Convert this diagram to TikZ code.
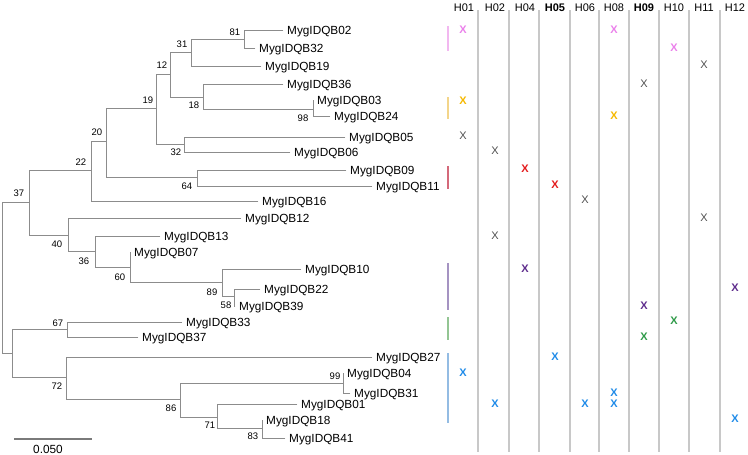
\documentclass[tikz,border=0pt]{standalone}
\usepackage{fontspec}
\setmainfont{Liberation Sans}
\definecolor{treegray}{HTML}{8C8C8C}
\definecolor{sbgray}{HTML}{7A7A7A}
\definecolor{sepgray}{HTML}{C8C8C8}
\definecolor{xgray}{HTML}{505050}
\definecolor{pinkX}{HTML}{EA80EA}
\definecolor{pinkB}{HTML}{F2B8F0}
\definecolor{yelX}{HTML}{F5B800}
\definecolor{yelB}{HTML}{F3D58A}
\definecolor{redX}{HTML}{E31A1C}
\definecolor{redB}{HTML}{D4697A}
\definecolor{purX}{HTML}{5E2C8C}
\definecolor{purB}{HTML}{A593C2}
\definecolor{grnX}{HTML}{2E9A48}
\definecolor{grnB}{HTML}{93C593}
\definecolor{bluX}{HTML}{1F8BE8}
\definecolor{bluB}{HTML}{94BCE3}
\begin{document}
\begin{tikzpicture}[x=1pt,y=-1pt,
  br/.style={draw=treegray, line width=0.9pt, line cap=rect},
  leaf/.style={anchor=west, inner xsep=4pt, inner ysep=0pt, font=\fontsize{11.8}{14}\selectfont, text height=8.45pt, text depth=0pt},
  bs/.style={inner sep=0pt, font=\fontsize{9.5}{11}\selectfont, text height=6.8pt, text depth=0pt},
  hdr/.style={inner sep=0pt, font=\fontsize{11}{13}\selectfont, text height=7.9pt, text depth=0pt},
  hdrb/.style={hdr, font=\fontsize{11}{13}\selectfont\bfseries},
  xg/.style={inner sep=0pt, font=\fontsize{11}{13}\selectfont, text height=7.9pt, text depth=0pt, text=xgray},
  xc/.style={inner sep=0pt, font=\fontsize{11}{13}\selectfont\bfseries, text height=7.9pt, text depth=0pt},
  sep/.style={draw=sepgray, line width=1.1pt},
  gbar/.style={line width=1.6pt},
]
\useasboundingbox (0,0) rectangle (748,455);

% ---------- internal nodes ----------
\coordinate (root) at (2,202);
\coordinate (n37) at (29,202);
\coordinate (n22) at (91,170);
\coordinate (n20) at (106,141);
\coordinate (n19) at (156,108);
\coordinate (n12) at (170,74);
\coordinate (n31) at (191,52);
\coordinate (n81) at (244,39);
\coordinate (n18) at (203,97);
\coordinate (n98) at (313,109);
\coordinate (n32) at (184,144);
\coordinate (n64) at (197,177);
\coordinate (n40) at (68,235);
\coordinate (n36) at (95,251);
\coordinate (n60) at (130,267);
\coordinate (n89) at (222,282);
\coordinate (n58) at (234,296);
\coordinate (nX) at (12,353);
\coordinate (n67) at (67,329);
\coordinate (n72) at (66,377);
\coordinate (n86) at (180,399);
\coordinate (n99) at (343,383);
\coordinate (n71) at (217,417);
\coordinate (n83) at (262,428);

% ---------- leaves ----------
\node[leaf] (B02) at (283,30) {MygIDQB02};
\node[leaf] (B32) at (255,48) {MygIDQB32};
\node[leaf] (B19) at (261,66) {MygIDQB19};
\node[leaf] (B36) at (283,84) {MygIDQB36};
\node[leaf] (B03) at (313,100) {MygIDQB03};
\node[leaf] (B24) at (330,116) {MygIDQB24};
\node[leaf] (B05) at (345,137) {MygIDQB05};
\node[leaf] (B06) at (290,152) {MygIDQB06};
\node[leaf] (B09) at (346,170) {MygIDQB09};
\node[leaf] (B11) at (372,186) {MygIDQB11};
\node[leaf] (B16) at (258,201) {MygIDQB16};
\node[leaf] (B12) at (241,218) {MygIDQB12};
\node[leaf] (B13) at (160,236) {MygIDQB13};
\node[leaf] (B07) at (130,252) {MygIDQB07};
\node[leaf] (B10) at (301,269) {MygIDQB10};
\node[leaf] (B22) at (260,289) {MygIDQB22};
\node[leaf] (B39) at (235,306) {MygIDQB39};
\node[leaf] (B33) at (182,322) {MygIDQB33};
\node[leaf] (B37) at (138,337) {MygIDQB37};
\node[leaf] (B27) at (372,357) {MygIDQB27};
\node[leaf] (B04) at (343,373) {MygIDQB04};
\node[leaf] (B31) at (350,393) {MygIDQB31};
\node[leaf] (B01) at (297,404) {MygIDQB01};
\node[leaf] (B18) at (262,420) {MygIDQB18};
\node[leaf] (B41) at (285,438) {MygIDQB41};

% ---------- branches ----------
\draw[br] (root) |- (n37);
\draw[br] (root) |- (nX);
\draw[br] (n37) |- (n22);
\draw[br] (n37) |- (n40);
\draw[br] (n22) |- (n20);
\draw[br] (n22) |- (B16.west);
\draw[br] (n20) |- (n19);
\draw[br] (n20) |- (n64);
\draw[br] (n19) |- (n12);
\draw[br] (n19) |- (n32);
\draw[br] (n12) |- (n31);
\draw[br] (n12) |- (n18);
\draw[br] (n31) |- (n81);
\draw[br] (n31) |- (B19.west);
\draw[br] (n81) |- (B02.west);
\draw[br] (n81) |- (B32.west);
\draw[br] (n18) |- (B36.west);
\draw[br] (n18) |- (n98);
\draw[br] (n98) |- (B03.west);
\draw[br] (n98) |- (B24.west);
\draw[br] (n32) |- (B05.west);
\draw[br] (n32) |- (B06.west);
\draw[br] (n64) |- (B09.west);
\draw[br] (n64) |- (B11.west);
\draw[br] (n40) |- (B12.west);
\draw[br] (n40) |- (n36);
\draw[br] (n36) |- (B13.west);
\draw[br] (n36) |- (n60);
\draw[br] (n60) |- (B07.west);
\draw[br] (n60) |- (n89);
\draw[br] (n89) |- (B10.west);
\draw[br] (n89) |- (n58);
\draw[br] (n58) |- (B22.west);
\draw[br] (n58) |- (B39.west);
\draw[br] (nX) |- (n67);
\draw[br] (nX) |- (n72);
\draw[br] (n67) |- (B33.west);
\draw[br] (n67) |- (B37.west);
\draw[br] (n72) |- (B27.west);
\draw[br] (n72) |- (n86);
\draw[br] (n86) |- (n99);
\draw[br] (n86) |- (n71);
\draw[br] (n99) |- (B04.west);
\draw[br] (n99) |- (B31.west);
\draw[br] (n71) |- (B01.west);
\draw[br] (n71) |- (n83);
\draw[br] (n83) |- (B18.west);
\draw[br] (n83) |- (B41.west);

% ---------- bootstrap values ----------
\node[bs] (v81) at (235,32) {81};
\node[bs] (v31) at (182,44) {31};
\node[bs] (v12) at (162,65) {12};
\node[bs] (v19) at (148,100) {19};
\node[bs] (v18) at (194,105) {18};
\node[bs] (v98) at (303,118) {98};
\node[bs] (v32) at (176,152) {32};
\node[bs] (v20) at (97,132) {20};
\node[bs] (v22) at (81,162) {22};
\node[bs] (v64) at (187,186) {64};
\node[bs] (v37) at (19,193) {37};
\node[bs] (v40) at (57,244) {40};
\node[bs] (v36) at (84,261) {36};
\node[bs] (v60) at (120,277) {60};
\node[bs] (v89) at (212,292) {89};
\node[bs] (v58) at (226,305) {58};
\node[bs] (v67) at (58,323) {67};
\node[bs] (v72) at (57,386) {72};
\node[bs] (v86) at (171,408) {86};
\node[bs] (v99) at (335,376) {99};
\node[bs] (v71) at (210,425) {71};
\node[bs] (v83) at (253,436) {83};

% ---------- scale bar ----------
\coordinate (sbL) at (14,439);
\coordinate (sbR) at (92,439);
\draw[draw=sbgray, line width=1.6pt] (sbL) -- (sbR);
\node[inner sep=0pt, font=\fontsize{11.8}{14}\selectfont, text height=8.45pt, text depth=0pt] (sblab) at (48,449) {0.050};

% ---------- group bars ----------
\draw[gbar, draw=pinkB] (448,26) -- (448,51);
\draw[gbar, draw=yelB] (448,97) -- (448,119);
\draw[gbar, draw=redB] (448,166) -- (448,189);
\draw[gbar, draw=purB] (448,263) -- (448,310);
\draw[gbar, draw=grnB] (448,317) -- (448,340);
\draw[gbar, draw=bluB] (448,353) -- (448,423);

% ---------- column separators ----------
\foreach \sx in {478,509,539,570,599,629,659,689,720}
  \draw[sep] (\sx,10) -- (\sx,452);

% ---------- headers ----------
\node[hdr] (h01) at (464,8) {H01};
\node[hdr] (h02) at (495,8) {H02};
\node[hdr] (h04) at (525,8) {H04};
\node[hdrb] (h05) at (555,8) {H05};
\node[hdr] (h06) at (585,8) {H06};
\node[hdr] (h08) at (614,8) {H08};
\node[hdrb] (h09) at (644,8) {H09};
\node[hdr] (h10) at (674,8) {H10};
\node[hdr] (h11) at (704,8) {H11};
\node[hdr] (h12) at (735,8) {H12};

% ---------- marks ----------
\node[xc, text=pinkX] (m1) at (463,30) {X};
\node[xc, text=pinkX] (m2) at (614,30) {X};
\node[xc, text=pinkX] (m3) at (674,48) {X};
\node[xg] (m4) at (704,65) {X};
\node[xg] (m5) at (644,84) {X};
\node[xc, text=yelX] (m6) at (463,101) {X};
\node[xc, text=yelX] (m7) at (614,116) {X};
\node[xg] (m8) at (463,136) {X};
\node[xg] (m9) at (495,151) {X};
\node[xc, text=redX] (m10) at (525,169) {X};
\node[xc, text=redX] (m11) at (555,185) {X};
\node[xg] (m12) at (585,200) {X};
\node[xg] (m13) at (704,218) {X};
\node[xg] (m14) at (495,236) {X};
\node[xc, text=purX] (m15) at (525,269) {X};
\node[xc, text=purX] (m16) at (735,288) {X};
\node[xc, text=purX] (m17) at (644,306) {X};
\node[xc, text=grnX] (m18) at (674,321) {X};
\node[xc, text=grnX] (m19) at (644,337) {X};
\node[xc, text=bluX] (m20) at (555,357) {X};
\node[xc, text=bluX] (m21) at (463,373) {X};
\node[xc, text=bluX] (m22) at (614,393) {X};
\node[xc, text=bluX] (m23) at (495,404) {X};
\node[xc, text=bluX] (m24) at (585,404) {X};
\node[xc, text=bluX] (m25) at (614,404) {X};
\node[xc, text=bluX] (m26) at (735,419) {X};
\end{tikzpicture}
\end{document}
